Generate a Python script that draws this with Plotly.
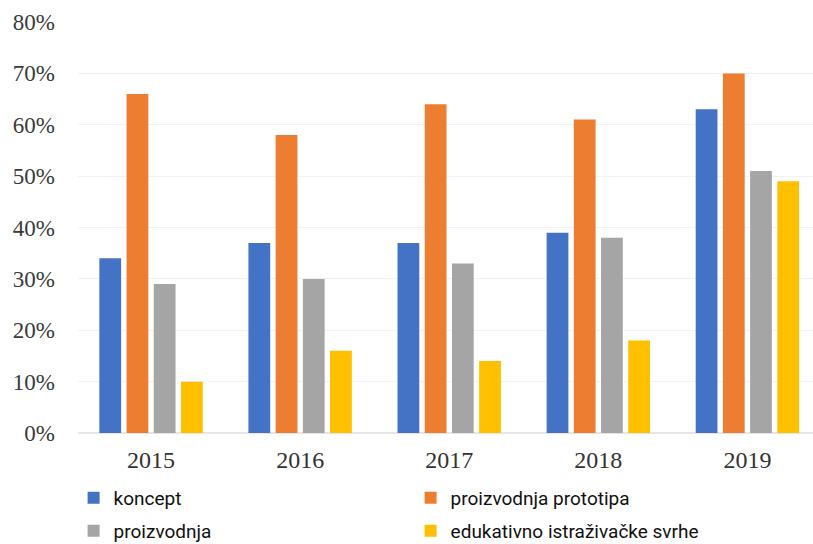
import plotly.graph_objects as go

years = ["2015", "2016", "2017", "2018", "2019"]
koncept = [34, 37, 37, 39, 63]
prototipa = [66, 58, 64, 61, 70]
proizvodnja = [29, 30, 33, 38, 51]
edukativno = [10, 16, 14, 18, 49]

series = [
    ("koncept", koncept, "#4472C4", "legend"),
    ("proizvodnja prototipa", prototipa, "#ED7D31", "legend"),
    ("proizvodnja", proizvodnja, "#A5A5A5", "legend2"),
    ("edukativno istraživačke svrhe", edukativno, "#FFC000", "legend2"),
]

fig = go.Figure()
for name, vals, color, lg in series:
    fig.add_trace(go.Bar(x=years, y=[v / 100 for v in vals], name=name, legend=lg,
                         marker=dict(color=color, line=dict(width=0))))

legfont = dict(family="Roboto, Liberation Sans, Arial, sans-serif", size=19, color="#111111")
common = dict(orientation="h", x=-0.006, xanchor="left", yanchor="middle",
              entrywidth=292, entrywidthmode="pixels", font=legfont,
              bgcolor="rgba(0,0,0,0)", borderwidth=0)

fig.update_layout(
    width=813, height=544,
    margin=dict(l=78, r=0, t=22, b=111, autoexpand=False),
    paper_bgcolor="white", plot_bgcolor="white",
    barmode="group", bargap=0.27, bargroupgap=0.2,
    showlegend=True,
    legend=dict(y=-0.158, **common),
    legend2=dict(y=-0.238, **common),
    xaxis=dict(showgrid=False, ticks="", showline=False, range=[-0.49, 4.44],
               ticklabelstandoff=10,
               tickfont=dict(family="Liberation Serif, Times New Roman, serif", size=24, color="#333333")),
    yaxis=dict(range=[0, 0.8], dtick=0.1, tickformat=".0%", showgrid=True, gridcolor="#F2F2F2",
               zeroline=True, zerolinecolor="#E6E6E6", showline=False, ticks="", ticklabelstandoff=22,
               tickfont=dict(family="Liberation Serif, Times New Roman, serif", size=23, color="#3a3a3a")),
)

fig.write_html("out.html")
